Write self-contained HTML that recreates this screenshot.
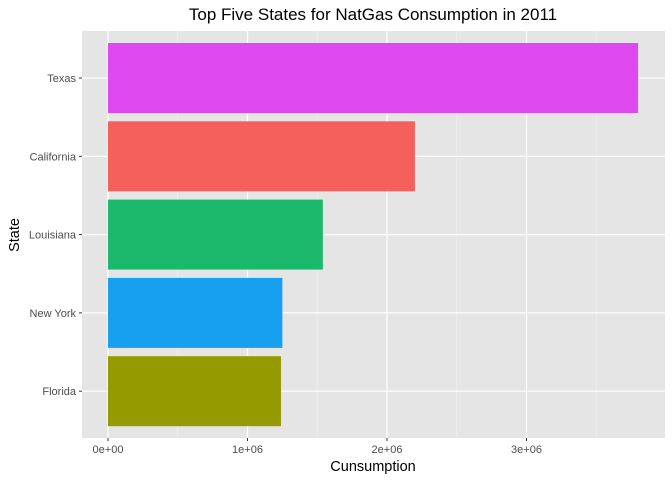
<!DOCTYPE html>
<html><head><meta charset="utf-8"><style>
body{margin:0;background:#fff;font-family:"Liberation Sans",sans-serif}
</style></head><body>
<svg id="c" width="672" height="480">
<text x="373" y="20" text-anchor="middle" font-size="17" fill="#000">Top Five States for NatGas Consumption in 2011</text>
<text x="373" y="471" text-anchor="middle" font-size="14.5" fill="#000">Cunsumption</text>
<text transform="translate(19,235) rotate(-90)" text-anchor="middle" font-size="14.5" fill="#000">State</text>
<g id="g"></g>
</svg>
<script>
const states=["Texas","California","Louisiana","New York","Florida"];
const values=[3800000,2200000,1540000,1250000,1240000];
const colors=["#df4af0","#f5605c","#1cb86c","#18a0f0","#949a00"];
const xTicks=[0,1000000,2000000,3000000];
const xTickLabels=["0e+00","1e+06","2e+06","3e+06"];
const ns="http://www.w3.org/2000/svg";
const L=82,R=665,T=31,B=438;
const x=v=>108+v*139.5/1e6;
const step=78.3;
const y=i=>78+i*step;
const g=document.getElementById('g');
function mk(t,a){const e=document.createElementNS(ns,t);for(const k in a)e.setAttribute(k,a[k]);g.appendChild(e);return e;}
let bg=mk('rect',{x:L,y:T,width:R-L,height:B-T,fill:'#e5e5e5'});


for(let i=0;i<xTicks.length;i++){
 const m=mk('line',{x1:x(xTicks[i]+500000),x2:x(xTicks[i]+500000),y1:T,y2:B,stroke:'#f2f2f2','stroke-width':0.6});
 
 
}
xTicks.forEach((v,i)=>{
 const l=mk('line',{x1:x(v),x2:x(v),y1:T,y2:B,stroke:'#fff','stroke-width':1.2});
 
 
 const tk=mk('line',{x1:x(v),x2:x(v),y1:B,y2:B+3,stroke:'#333','stroke-width':1});
 
 
 const t=mk('text',{x:x(v),y:B+15,'text-anchor':'middle','font-size':'11','fill':'#4d4d4d'});
 t.textContent=xTickLabels[i];
 
 
});
states.forEach((s,i)=>{
 const l=mk('line',{x1:L,x2:R,y1:y(i),y2:y(i),stroke:'#fff','stroke-width':1.2});
 
 
 const b=mk('rect',{x:x(0),y:y(i)-35,width:x(values[i])-x(0),height:70,fill:colors[i]});
 
 
 const tk=mk('line',{x1:L-3,x2:L,y1:y(i),y2:y(i),stroke:'#333','stroke-width':1});
 
 
 const t=mk('text',{x:L-6,y:y(i)+4,'text-anchor':'end','font-size':'11','fill':'#4d4d4d'});
 t.textContent=s;
 
 
});
</script>
</body></html>
